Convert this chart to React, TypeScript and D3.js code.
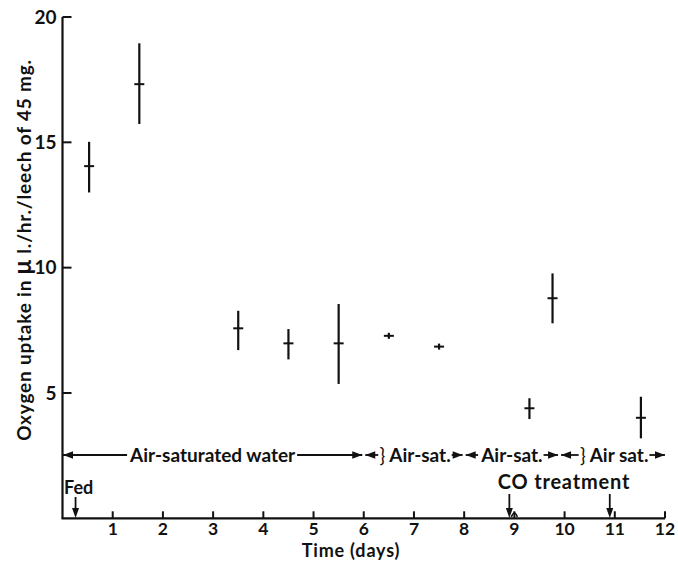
import React, { useEffect, useRef } from "react";
import * as d3 from "d3";

const days = [0.53, 1.53, 3.5, 4.5, 5.5, 6.5, 7.5, 9.3, 9.76, 11.52];
const means = [14.05, 17.32, 7.58, 6.98, 6.98, 7.28, 6.85, 4.39, 8.78, 4.01];
const upper = [15.02, 18.95, 8.28, 7.55, 8.55, 7.4, 6.97, 4.79, 9.77, 4.85];
const lower = [13.0, 15.73, 6.71, 6.34, 5.36, 7.16, 6.73, 3.96, 7.78, 3.19];

const xTicks = [1, 2, 3, 4, 5, 6, 7, 8, 9, 10, 11, 12];
const yTicks = [5, 10, 15, 20];

const segStart = [0, 6, 8, 9.9];
const segEnd = [6, 8, 9.9, 12];
const segLabels = ["Air-saturated water", "Air-sat.", "Air-sat.", "Air sat."];
const segBrace = [false, true, false, true];

const fedDay = 0.26;
const coDays = [8.9, 10.9];

const FONT = "Lato, 'Open Sans', sans-serif";

export default function App() {
  const ref = useRef<SVGSVGElement>(null);
  useEffect(() => {
    const svg = d3.select(ref.current);
    svg.selectAll("*").remove();
    const x = d3.scaleLinear().domain([0, 12]).range([62.5, 665]);
    const y = d3.scaleLinear().domain([0, 20]).range([518.3, 17]);
    const ink = "#111";

    // axes
    svg.append("line").attr("x1", x(0)).attr("x2", x(0)).attr("y1", y(20)).attr("y2", y(0))
      .attr("stroke", ink).attr("stroke-width", 2.2);
    svg.append("line").attr("x1", x(0) - 1).attr("x2", x(12)).attr("y1", y(0)).attr("y2", y(0))
      .attr("stroke", ink).attr("stroke-width", 2.2);

    yTicks.forEach((t) => {
      svg.append("line").attr("x1", x(0)).attr("x2", x(0) + 9).attr("y1", y(t)).attr("y2", y(t))
        .attr("stroke", ink).attr("stroke-width", 2);
      svg.append("text").attr("x", x(0) - 6).attr("y", y(t)).attr("dy", "0.36em")
        .attr("text-anchor", "end").attr("font-family", FONT).attr("font-size", 19)
        .attr("font-weight", 700).attr("fill", ink).text(String(t));
    });
    xTicks.forEach((t) => {
      svg.append("line").attr("x1", x(t)).attr("x2", x(t)).attr("y1", y(0)).attr("y2", y(0) - 7)
        .attr("stroke", ink).attr("stroke-width", 2);
      svg.append("text").attr("x", x(t)).attr("y", 535)
        .attr("text-anchor", "middle").attr("font-family", FONT).attr("font-size", 17.5)
        .attr("font-weight", 700).attr("fill", ink).text(String(t));
    });

    // axis titles
    svg.append("text").attr("x", 351).attr("y", 557).attr("text-anchor", "middle")
      .attr("font-family", FONT).attr("font-size", 18).attr("font-weight", 700).attr("fill", ink)
      .attr("letter-spacing", 0.8)
      .text("Time (days)");
    const yl = svg.append("text").attr("transform", "translate(31,250) rotate(-90)")
      .attr("text-anchor", "middle").attr("font-family", FONT).attr("font-size", 19)
      .attr("font-weight", 700).attr("fill", ink).attr("letter-spacing", 0.8);
    yl.append("tspan").text("Oxygen uptake in ");
    yl.append("tspan").attr("font-size", 24).text("μ");
    yl.append("tspan").text(" l./hr./leech of 45 mg.");

    // error bars
    const g = svg.append("g").attr("stroke", ink);
    days.forEach((d, i) => {
      g.append("line").attr("x1", x(d)).attr("x2", x(d)).attr("y1", y(upper[i])).attr("y2", y(lower[i]))
        .attr("stroke-width", 2.2);
      g.append("line").attr("x1", x(d) - 5).attr("x2", x(d) + 5).attr("y1", y(means[i])).attr("y2", y(means[i]))
        .attr("stroke-width", 2);
    });

    // arrowhead helper
    const head = (tx: number, ty: number, dir: number) => {
      const L = 10, H = 3.8;
      svg.append("path")
        .attr("d", `M${tx},${ty} L${tx - dir * L},${ty - H} L${tx - dir * L},${ty + H} Z`)
        .attr("fill", ink);
    };
    const headDown = (tx: number, ty: number) => {
      const L = 10, H = 3.5;
      svg.append("path")
        .attr("d", `M${tx},${ty} L${tx - H},${ty - L} L${tx + H},${ty - L} Z`).attr("fill", ink);
    };

    // annotation row
    const rowY = 455;
    segLabels.forEach((lab, i) => {
      const x0 = x(segStart[i]) + (i === 0 ? 0.5 : 1.5);
      const x1 = x(segEnd[i]) - (i === segLabels.length - 1 ? 0 : 1.5);
      const mid = (x0 + x1) / 2 + (segBrace[i] ? 6 : 0);
      const t = svg.append("text").attr("x", mid).attr("y", rowY).attr("dy", "0.36em")
        .attr("text-anchor", "middle").attr("font-family", FONT).attr("font-size", 19)
        .attr("font-weight", 700).attr("fill", ink).text(lab);
      const bb = (t.node() as SVGTextElement).getBBox();
      let leftEnd = bb.x - 2;
      if (segBrace[i]) {
        svg.append("text").attr("x", bb.x - 3).attr("y", rowY).attr("dy", "0.36em")
          .attr("text-anchor", "end").attr("font-family", FONT).attr("font-size", 19)
          .attr("fill", ink).text("}");
        leftEnd = bb.x - 10;
      }
      svg.append("line").attr("x1", x0).attr("x2", leftEnd).attr("y1", rowY).attr("y2", rowY)
        .attr("stroke", ink).attr("stroke-width", 1.8);
      svg.append("line").attr("x1", bb.x + bb.width + 1).attr("x2", x1).attr("y1", rowY).attr("y2", rowY)
        .attr("stroke", ink).attr("stroke-width", 1.8);
      head(x0, rowY, -1);
      head(x1, rowY, 1);
    });

    // Fed
    svg.append("text").attr("x", 64).attr("y", 494).attr("font-family", FONT).attr("font-size", 18)
      .attr("font-weight", 700).attr("fill", ink).text("Fed");
    svg.append("line").attr("x1", x(fedDay)).attr("x2", x(fedDay)).attr("y1", 497).attr("y2", 510)
      .attr("stroke", ink).attr("stroke-width", 1.8);
    headDown(x(fedDay), 518);

    // CO treatment
    svg.append("text").attr("x", 564).attr("y", 489).attr("text-anchor", "middle")
      .attr("font-family", FONT).attr("font-size", 20).attr("font-weight", 700).attr("fill", ink)
      .attr("letter-spacing", 0.8)
      .text("CO treatment");
    coDays.forEach((d) => {
      svg.append("line").attr("x1", x(d)).attr("x2", x(d)).attr("y1", 494).attr("y2", 510)
        .attr("stroke", ink).attr("stroke-width", 1.8);
      headDown(x(d), 518);
    });
    svg.append("path")
      .attr("d", `M${x(coDays[0]) + 2},517 Q${x(coDays[0]) + 5},509 ${x(coDays[0]) + 8},517`)
      .attr("fill", "none").attr("stroke", ink).attr("stroke-width", 1.6);
  }, []);

  return (
    <svg ref={ref} width={678} height={563}
      style={{ position: "absolute", left: 0, top: 0, background: "#fff" }} />
  );
}
